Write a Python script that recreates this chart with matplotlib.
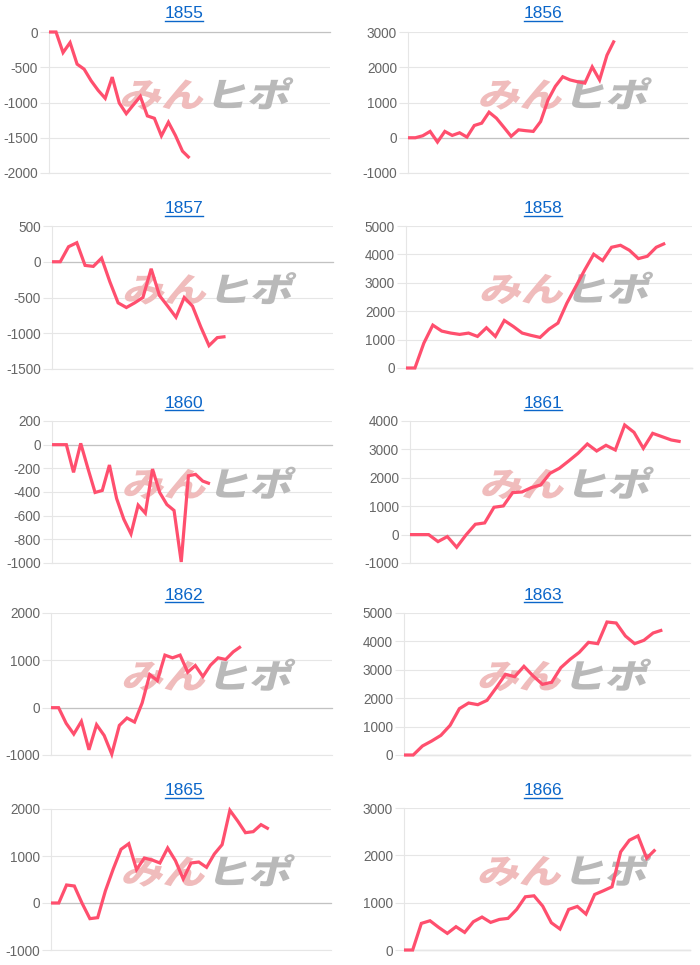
import numpy as np
import matplotlib
matplotlib.use("Agg")
import matplotlib.pyplot as plt
from matplotlib.textpath import TextPath
from matplotlib.patches import PathPatch
from matplotlib.font_manager import FontProperties
from matplotlib.transforms import Affine2D, IdentityTransform
from matplotlib.lines import Line2D

# ---------------- data ----------------
years = ["1855", "1856", "1857", "1858", "1860", "1861", "1862", "1863", "1865", "1866"]

y1855 = [0, 0, -292, -150, -456, -527, -692, -828, -941, -640, -1007, -1158, -1035, -913,
         -1190, -1224, -1473, -1280, -1468, -1690, -1788]
y1856 = [0, 0, 56, 180, -122, 180, 66, 141, 19, 348, 414, 725, 555, 300, 40, 225, 200, 180,
         460, 1070, 1460, 1730, 1640, 1590, 1550, 2010, 1640, 2340, 2760]
y1857 = [0, 0, 210, 266, -51, -65, 51, -280, -575, -640, -575, -500, -98, -472, -621, -776,
         -500, -621, -911, -1173, -1061, -1047]
y1858 = [0, 0, 878, 1510, 1300, 1230, 1183, 1230, 1112, 1417, 1112, 1674, 1464, 1230, 1148,
         1077, 1370, 1581, 2283, 2869, 3455, 4005, 3782, 4251, 4321, 4145, 3852, 3934, 4251, 4391]
y1860 = [0, 0, 0, -234, 11, -200, -404, -387, -172, -455, -630, -754, -511, -579, -206, -404,
         -506, -556, -991, -263, -251, -308, -330]
y1861 = [0, 0, 0, -246, -70, -446, -12, 364, 411, 962, 1009, 1478, 1501, 1654, 1748, 2158,
         2334, 2592, 2862, 3191, 2944, 3144, 2979, 3859, 3601, 3038, 3566, 3449, 3331, 3273]
y1862 = [0, 0, -332, -558, -290, -890, -360, -587, -982, -375, -219, -304, 99, 700, 572, 1110,
         1053, 1110, 749, 890, 657, 898, 1053, 1018, 1180, 1293]
y1863 = [0, 0, 317, 493, 692, 1045, 1631, 1831, 1772, 1925, 2371, 2840, 2758, 3122, 2782,
         2488, 2559, 3075, 3368, 3615, 3967, 3920, 4683, 4648, 4190, 3920, 4038, 4296, 4401]
y1865 = [0, 0, 383, 362, -7, -333, -312, 262, 723, 1142, 1262, 709, 957, 915, 851, 1170, 901,
         511, 851, 872, 759, 1043, 1241, 1972, 1745, 1496, 1518, 1667, 1574]
y1866 = [0, 0, 562, 618, 478, 351, 492, 372, 597, 696, 583, 646, 668, 857, 1124, 1145, 928,
         576, 443, 857, 920, 759, 1173, 1251, 1335, 2073, 2319, 2411, 1940, 2122]

series = [y1855, y1856, y1857, y1858, y1860, y1861, y1862, y1863, y1865, y1866]

# number of x categories per chart
x_counts = [41, 39, 35, 33, 40, 31, 38, 32, 37, 34]

# y axis (min, max, step)
y_min = [-2000, -1000, -1500, 0, -1000, -1000, -1000, 0, -1000, 0]
y_max = [0, 3000, 500, 5000, 200, 4000, 2000, 5000, 2000, 3000]
y_step = [500, 1000, 500, 1000, 200, 1000, 1000, 1000, 1000, 1000]

# ---------------- layout (pixels: left, top, right, bottom) ----------------
W, H = 700, 965
boxes = [
    (49, 32, 330, 173), (408, 32, 688, 173),
    (52, 226, 333, 369), (406, 226, 692, 368),
    (52, 421, 332, 563), (410, 421, 690, 563),
    (51, 613, 332, 755), (404, 613, 690, 755),
    (51, 809, 331, 950), (404, 808, 690, 950),
]
title_x = [184, 543]
title_base = [18.3, 213.3, 407.7, 599.7, 795]

LINE = "#ff4f6e"
GRID = "#e6e6e6"
ZERO = "#c2c2c2"

fig = plt.figure(figsize=(W / 100, H / 100), dpi=100)
fig.patch.set_facecolor("white")

wm_fp = FontProperties(family="Noto Sans CJK JP", weight="black")

axes = []
for i, (yr, ys) in enumerate(zip(years, series)):
    l, t, r, b = boxes[i]
    ax = fig.add_axes([l / W, 1 - b / H, (r - l) / W, (b - t) / H])
    axes.append(ax)
    ax.patch.set_alpha(0)
    ax.plot(np.arange(len(ys)), ys, color=LINE, lw=2.3, zorder=4, clip_on=False,
            solid_joinstyle="miter", solid_capstyle="butt")
    ax.set_xlim(0, x_counts[i] - 1)
    ax.set_ylim(y_min[i], y_max[i])
    ticks = np.arange(y_min[i], y_max[i] + y_step[i] / 2, y_step[i])
    ax.set_yticks(ticks)
    ax.set_yticklabels([str(int(v)) for v in ticks], family="Liberation Sans")
    ax.set_xticks([])
    ax.set_axisbelow(True)
    ax.grid(axis="y", color=GRID, lw=0.8)
    if y_min[i] <= 0 <= y_max[i]:
        ax.axhline(0, color=ZERO, lw=0.9, zorder=1.5, clip_on=False)
    for s in ("top", "right"):
        ax.spines[s].set_visible(False)
    for s in ("left", "bottom"):
        ax.spines[s].set_color(GRID)
        ax.spines[s].set_linewidth(0.8)
    ax.tick_params(axis="y", length=6.5, width=0.8, color=GRID, pad=1.5,
                   labelsize=9.8, labelcolor="#666666")

    # watermark
    cx, cy = ax.transAxes.transform((0.55, 0.57))
    size = 40
    tp1 = TextPath((0, 0), "みん", size=size, prop=wm_fp)
    tp2 = TextPath((0, 0), "ヒポ", size=size, prop=wm_fp)
    e1 = tp1.get_extents()
    base = cy - 0.36 * size
    tr1 = Affine2D().scale(1.05, 0.85).skew_deg(14, 0).translate(cx - 2 - e1.x1 * 1.05, base)
    tr2 = Affine2D().scale(1.05, 0.85).skew_deg(14, 0).translate(cx + 1, base)
    p1 = PathPatch(tr1.transform_path(tp1), transform=IdentityTransform(),
                   facecolor="#f0bcbc", edgecolor="none", zorder=2, clip_on=False)
    p2 = PathPatch(tr2.transform_path(tp2), transform=IdentityTransform(),
                   facecolor="#b9b9b9", edgecolor="none", zorder=2, clip_on=False)
    ax.add_artist(p1)
    ax.add_artist(p2)

# titles with underline
titles = []
for i, yr in enumerate(years):
    x = title_x[i % 2]
    yb = title_base[i // 2]
    txt = fig.text(x / W, 1 - yb / H, yr, ha="center", va="baseline",
                   color="#0b66c9", fontsize=12.5, family="Liberation Sans")
    titles.append((txt, yb))

fig.canvas.draw()
renderer = fig.canvas.get_renderer()
for txt, yb in titles:
    bb = txt.get_window_extent(renderer)
    uy = yb + 2.6
    fig.add_artist(Line2D([bb.x0 / W, bb.x1 / W], [1 - uy / H, 1 - uy / H],
                          transform=fig.transFigure, color="#0b66c9", lw=1.0))

fig.savefig("out.png", dpi=100, facecolor="white")
